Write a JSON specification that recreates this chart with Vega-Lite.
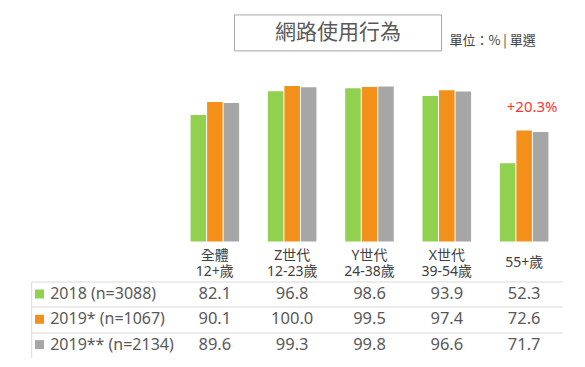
{
  "$schema": "https://vega.github.io/schema/vega-lite/v6.json",
  "width": 386.6,
  "height": 76,
  "padding": {"left": 30.2, "top": 13.5, "right": 0, "bottom": 0},
  "autosize": {"type": "pad"},
  "background": "white",
  "config": {
    "view": {"stroke": null},
    "font": "Noto Sans, Noto Sans CJK TC"
  },
  "datasets": {
    "bars": [
      {"group": "全體|12+歲", "series": "2018 (n=3088)", "value": 82.1},
      {"group": "全體|12+歲", "series": "2019* (n=1067)", "value": 90.1},
      {"group": "全體|12+歲", "series": "2019** (n=2134)", "value": 89.6},
      {"group": "Z世代|12-23歲", "series": "2018 (n=3088)", "value": 96.8},
      {"group": "Z世代|12-23歲", "series": "2019* (n=1067)", "value": 100.0},
      {"group": "Z世代|12-23歲", "series": "2019** (n=2134)", "value": 99.3},
      {"group": "Y世代|24-38歲", "series": "2018 (n=3088)", "value": 98.6},
      {"group": "Y世代|24-38歲", "series": "2019* (n=1067)", "value": 99.5},
      {"group": "Y世代|24-38歲", "series": "2019** (n=2134)", "value": 99.8},
      {"group": "X世代|39-54歲", "series": "2018 (n=3088)", "value": 93.9},
      {"group": "X世代|39-54歲", "series": "2019* (n=1067)", "value": 97.4},
      {"group": "X世代|39-54歲", "series": "2019** (n=2134)", "value": 96.6},
      {"group": "55+歲", "series": "2018 (n=3088)", "value": 52.3},
      {"group": "55+歲", "series": "2019* (n=1067)", "value": 72.6},
      {"group": "55+歲", "series": "2019** (n=2134)", "value": 71.7}
    ],
    "groups": [
      {"group": "全體|12+歲"},
      {"group": "Z世代|12-23歲"},
      {"group": "Y世代|24-38歲"},
      {"group": "X世代|39-54歲"},
      {"group": "55+歲"}
    ],
    "note": [{"group": "55+歲", "value": 72.6, "label": "+20.3%"}],
    "head": [{"title": "網路使用行為", "unit": "單位：% | 單選"}]
  },
  "layer": [
    {
      "layer": [
        {
          "data": {"name": "bars"},
          "mark": {"type": "bar", "clip": false},
          "encoding": {
            "x": {
              "field": "group", "type": "nominal",
              "scale": {"domain": ["全體|12+歲", "Z世代|12-23歲", "Y世代|24-38歲", "X世代|39-54歲", "55+歲"], "paddingInner": 0, "paddingOuter": 0},
              "axis": {
                "orient": "top", "title": null, "domain": false, "ticks": false, "labels": false,
                "grid": true, "gridColor": "#D9D9D9", "gridWidth": 1, "tickBand": "extent"
              }
            },
            "xOffset": {
              "field": "series", "type": "nominal",
              "scale": {"domain": ["2018 (n=3088)", "2019* (n=1067)", "2019** (n=2134)"], "paddingInner": 0.06, "paddingOuter": 0.87}
            },
            "y": {"field": "value", "type": "quantitative", "scale": {"domain": [-67.5, -20.6], "nice": false, "zero": false}, "axis": null},
            "y2": {"datum": 4.1},
            "color": {
              "field": "series", "type": "nominal",
              "scale": {"domain": ["2018 (n=3088)", "2019* (n=1067)", "2019** (n=2134)"], "range": ["#92D050", "#F39019", "#A6A6A6"]},
              "legend": {
                "orient": "none", "legendX": -144.7, "legendY": 4.5, "title": null,
                "symbolType": "square", "symbolSize": 81, "symbolStrokeWidth": 0,
                "labelFontSize": 16, "labelColor": "#595959", "labelOffset": 2.7,
                "rowPadding": 9.3, "padding": 0
              }
            }
          }
        },
        {
          "data": {"name": "groups"},
          "transform": [{"filter": "indexof(datum.group, '|') >= 0"}],
          "mark": {"type": "text", "fontSize": 14, "color": "#404040", "align": "center", "baseline": "middle", "lineBreak": "|", "lineHeight": 16},
          "encoding": {
            "x": {"field": "group", "type": "nominal", "axis": null},
            "y": {"datum": -4.85, "type": "quantitative", "axis": null},
            "text": {"field": "group"}
          }
        },
        {
          "data": {"name": "groups"},
          "transform": [{"filter": "indexof(datum.group, '|') < 0"}],
          "mark": {"type": "text", "fontSize": 14, "color": "#404040", "align": "center", "baseline": "middle"},
          "encoding": {
            "x": {"field": "group", "type": "nominal", "axis": null},
            "y": {"datum": -9.2, "type": "quantitative", "axis": null},
            "text": {"field": "group"}
          }
        },
        {
          "data": {"name": "head"},
          "mark": {"type": "rect", "fill": "white", "stroke": "#A6A6A6", "strokeWidth": 1},
          "encoding": {
            "x": {"datum": "全體|12+歲", "type": "nominal", "bandPosition": 0.754, "axis": null},
            "x2": {"datum": "X世代|39-54歲", "bandPosition": 0.432},
            "y": {"datum": 143.9, "type": "quantitative", "axis": null},
            "y2": {"datum": 121.7}
          }
        },
        {
          "data": {"name": "head"},
          "mark": {"type": "text", "fontSize": 21, "color": "#595959", "align": "center", "baseline": "middle", "font": "Noto Sans CJK TC"},
          "encoding": {
            "x": {"datum": "Y世代|24-38歲", "type": "nominal", "bandPosition": 0.093, "axis": null},
            "y": {"datum": 132.8, "type": "quantitative", "axis": null},
            "text": {"field": "title"}
          }
        },
        {
          "data": {"name": "head"},
          "mark": {"type": "text", "fontSize": 13, "color": "#404040", "align": "left", "baseline": "middle", "dx": 2.7, "font": "Noto Sans CJK TC"},
          "encoding": {
            "x": {"datum": "X世代|39-54歲", "type": "nominal", "axis": null},
            "y": {"datum": 127.9, "type": "quantitative", "axis": null},
            "text": {"field": "unit"}
          }
        },
        {
          "data": {"name": "note"},
          "mark": {"type": "text", "fontSize": 15, "color": "#FF3333", "align": "center", "baseline": "middle", "dx": 8, "dy": -23.3},
          "encoding": {
            "x": {"field": "group", "type": "nominal", "axis": null},
            "y": {"field": "value", "type": "quantitative", "axis": null},
            "text": {"field": "label"}
          }
        }
      ]
    },
    {
      "data": {"name": "bars"},
      "mark": {"type": "text", "fontSize": 16.5, "color": "#595959", "baseline": "middle"},
      "encoding": {
        "x": {"field": "group", "type": "nominal", "axis": null},
        "y": {
          "field": "series", "type": "nominal",
          "scale": {"domain": ["2018 (n=3088)", "2019* (n=1067)", "2019** (n=2134)"], "paddingInner": 0, "paddingOuter": 0},
          "axis": {
            "orient": "left", "offset": 145, "title": null, "labels": false,
            "domain": true, "domainColor": "#D9D9D9", "domainWidth": 1,
            "ticks": true, "tickSize": -145, "tickColor": {"condition": {"test": "datum.index === 1", "value": "transparent"}, "value": "#D9D9D9"}, "tickWidth": 1,
            "tickBand": "extent",
            "grid": true, "gridColor": {"condition": {"test": "datum.index === 1", "value": "transparent"}, "value": "#D9D9D9"}, "gridWidth": 1
          }
        },
        "text": {"field": "value", "type": "quantitative", "format": ".1f"}
      }
    }
  ],
  "resolve": {"scale": {"y": "independent"}}
}
